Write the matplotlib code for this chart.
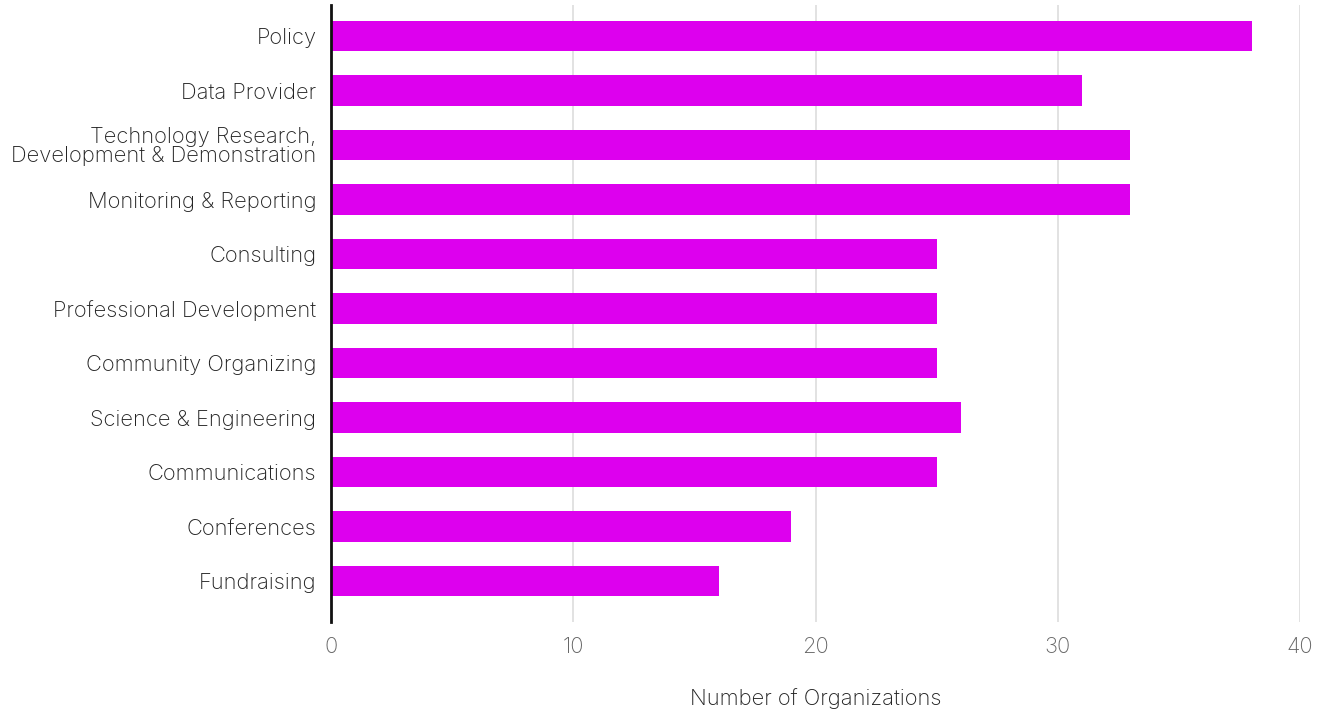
import matplotlib
matplotlib.use("Agg")
from matplotlib import pyplot as plt

categories = [
    "Policy",
    "Data Provider",
    "Technology Research,\nDevelopment & Demonstration",
    "Monitoring & Reporting",
    "Consulting",
    "Professional Development",
    "Community Organizing",
    "Science & Engineering",
    "Communications",
    "Conferences",
    "Fundraising",
]
counts = [38, 31, 33, 33, 25, 25, 25, 26, 25, 19, 16]
x_ticks = [0, 10, 20, 30, 40]

plt.rcParams['font.family'] = ['Inter', 'DejaVu Sans']

fig = plt.figure(figsize=(13.22, 7.11), dpi=100)
ax = fig.add_axes([0.2504, 0.1252, 0.7330, 0.8678])

pos = list(range(len(categories)))
ax.barh(pos, counts, height=0.56, color='#dd00ee', zorder=3)

ax.set_ylim(len(categories) - 0.25, -0.57)
ax.set_xlim(0, 40)
ax.set_yticks(pos)
ax.set_yticklabels(categories, fontsize=15.8, color='#222222', fontweight='light',
                   linespacing=0.95)
ax.set_xticks(x_ticks)
ax.set_xticklabels([str(t) for t in x_ticks], fontsize=15.8, color='#666666', fontweight='light')
ax.tick_params(axis='both', length=0)
ax.tick_params(axis='y', pad=10.5)
ax.tick_params(axis='x', pad=11)

# light vertical gridlines behind the bars
ax.grid(axis='x', color='#dddddd', linewidth=1.2, zorder=0)
for s in ['top', 'right', 'bottom']:
    ax.spines[s].set_visible(False)
ax.spines['left'].set_color('#111111')
ax.spines['left'].set_linewidth(2)
ax.spines['left'].set_zorder(4)

ax.set_xlabel("Number of Organizations", fontsize=15.8, color='#222222',
              fontweight='light', labelpad=22)

fig.savefig("out.png", dpi=100)
